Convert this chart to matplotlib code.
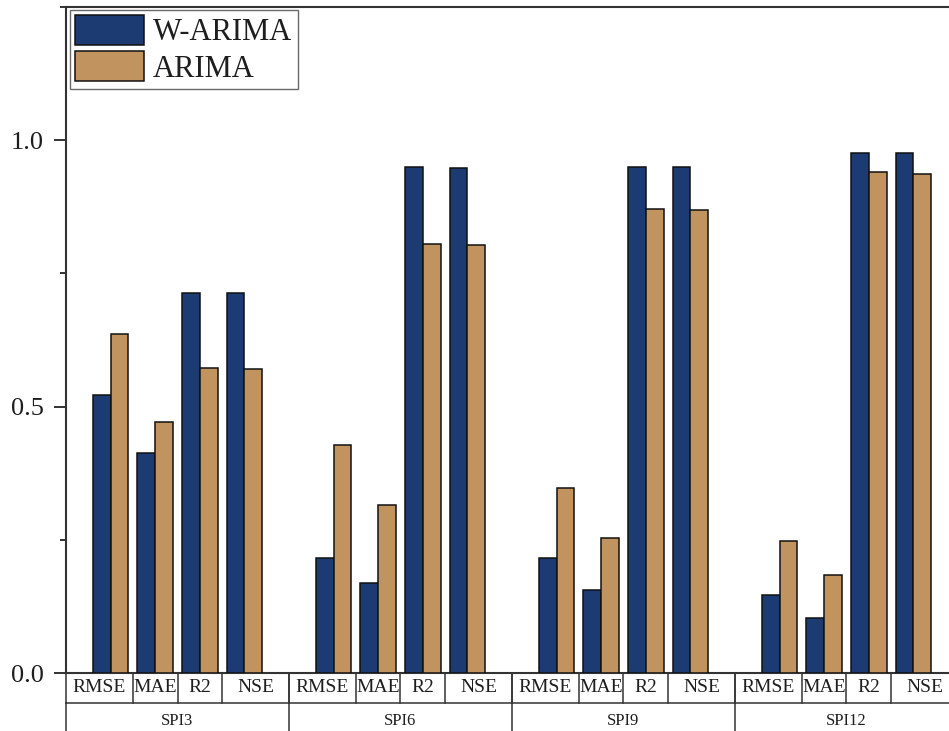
import numpy as np
import matplotlib
matplotlib.use("Agg")
import matplotlib.pyplot as plt
from matplotlib.ticker import MultipleLocator, FormatStrFormatter

# --- Data ---
groups = ["SPI3", "SPI6", "SPI9", "SPI12"]
metrics = ["RMSE", "MAE", "R2", "NSE"]

w_arima = [
    [0.521, 0.413, 0.714, 0.713],   # SPI3
    [0.215, 0.169, 0.950, 0.948],   # SPI6
    [0.216, 0.155, 0.950, 0.949],   # SPI9
    [0.147, 0.104, 0.976, 0.976],   # SPI12
]
arima = [
    [0.637, 0.472, 0.572, 0.571],
    [0.427, 0.315, 0.806, 0.803],
    [0.348, 0.253, 0.871, 0.869],
    [0.247, 0.184, 0.940, 0.936],
]

# --- Style ---
plt.rcParams['font.family'] = ['Liberation Serif', 'DejaVu Serif']
c_w = "#1b3b72"
c_a = "#c0935f"
line_c = "#333333"
text_c = "#1e1e1e"

W, H = 949, 731
fig = plt.figure(figsize=(W / 100, H / 100), dpi=100)
ax = fig.add_axes([66 / W, 58 / H, 892 / W, 666 / H])

group_span = len(metrics) + 1
bar_w = 0.4

# bar-pair centres: one slot per metric, plus an empty slot between groups
x = []
for g in range(len(groups)):
    for m in range(len(metrics)):
        x.append(g * group_span + m + 1)
x = np.array(x, dtype=float)

w_vals = np.array(w_arima).ravel()
a_vals = np.array(arima).ravel()

b1 = ax.bar(x - bar_w / 2, w_vals, bar_w, color=c_w, edgecolor="#111111",
            linewidth=1.1, label="W-ARIMA", zorder=3)
b2 = ax.bar(x + bar_w / 2, a_vals, bar_w, color=c_a, edgecolor="#111111",
            linewidth=1.1, label="ARIMA", zorder=3)

ax.set_xlim(0, group_span * len(groups))
ax.set_ylim(0, 1.25)

ax.yaxis.set_major_locator(MultipleLocator(0.5))
ax.yaxis.set_minor_locator(MultipleLocator(0.25))
ax.yaxis.set_major_formatter(FormatStrFormatter('%.1f'))
ax.tick_params(axis='y', which='major', direction='out', length=9, width=1.4,
               pad=7, labelsize=19, colors=line_c, labelcolor=text_c)
ax.tick_params(axis='y', which='minor', direction='out', length=4.5, width=1.4,
               colors=line_c)
ax.set_xticks([])

for sp in ax.spines.values():
    sp.set_color(line_c)
    sp.set_linewidth(1.5)

# --- Two-row category table under the x axis ---
trans = ax.get_xaxis_transform()
row1 = -30 / 666
row2 = -64 / 666
lw = 1.1
xmax = group_span * len(groups)
ax.plot([0, xmax], [row1, row1], color=line_c, lw=lw, transform=trans, clip_on=False)
ax.plot([0, xmax], [row2, row2], color=line_c, lw=lw, transform=trans, clip_on=False)

cell_edges = [0, 1.5, 2.5, 3.5, 5]
for g, name in enumerate(groups):
    x0 = g * group_span
    for e in cell_edges:
        ax.plot([x0 + e, x0 + e], [0, row1], color=line_c, lw=lw,
                transform=trans, clip_on=False)
    ax.plot([x0, x0], [row1, row2], color=line_c, lw=lw,
            transform=trans, clip_on=False)
    for m, label in enumerate(metrics):
        cx = x0 + (cell_edges[m] + cell_edges[m + 1]) / 2
        ax.text(cx, row1 / 2, label, transform=trans, ha="center", va="center",
                fontsize=14, color=text_c)
    ax.text(x0 + group_span / 2, (row1 + row2) / 2 - 0.002, name, transform=trans,
            ha="center", va="center", fontsize=12, color=text_c)

# --- Legend ---
leg = ax.legend(handles=[b1, b2], loc="upper left",
                bbox_to_anchor=(4 / 892, 1 - 3 / 666), borderaxespad=0,
                fontsize=22, handlelength=2.25, handleheight=1.12,
                handletextpad=0.3, labelspacing=0.13, borderpad=0.17,
                fancybox=False, frameon=True)
leg.get_frame().set_edgecolor("#444444")
leg.get_frame().set_linewidth(1.0)
for t in leg.get_texts():
    t.set_color(text_c)

fig.savefig("out.png", dpi=100)
